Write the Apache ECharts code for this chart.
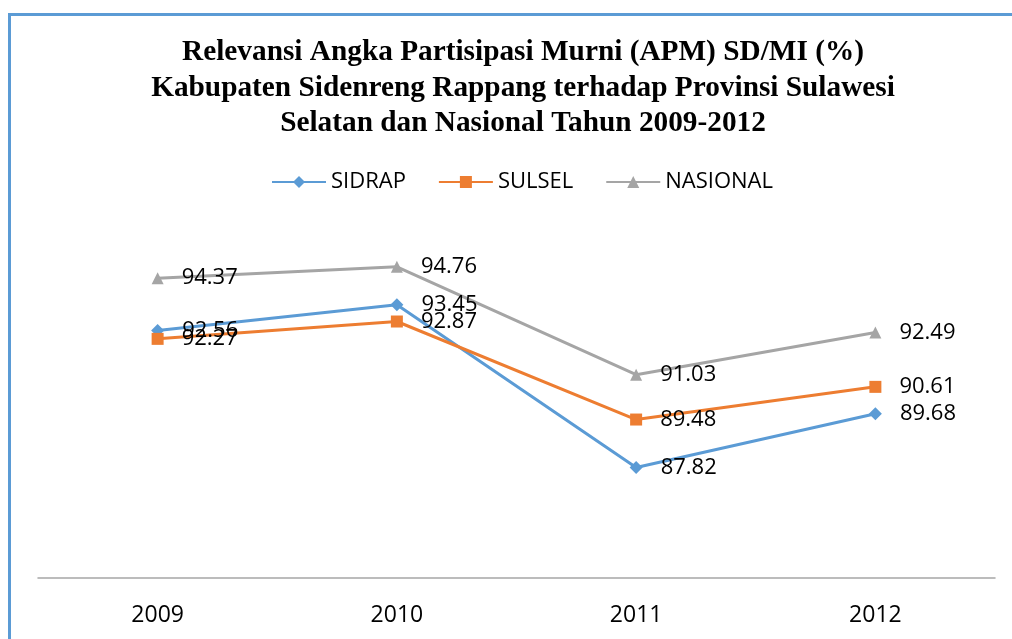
<!DOCTYPE html>
<html>
<head>
<meta charset="utf-8">
<script src="https://cdn.jsdelivr.net/npm/echarts@6/dist/echarts.min.js"></script>
<style>
  html, body { margin: 0; padding: 0; background: #fff; }
  #chart { width: 1012px; height: 639px; }
</style>
</head>
<body>
<div id="chart"></div>
<script>
const years = ['2009', '2010', '2011', '2012'];
const sidrap = [92.56, 93.45, 87.82, 89.68];
const sulsel = [92.27, 92.87, 89.48, 90.61];
const nasional = [94.37, 94.76, 91.03, 92.49];

const myChart = echarts.init(document.getElementById('chart'));

const labelStyle = {
  show: true,
  position: 'right',
  distance: 18,
  fontFamily: 'Open Sans',
  fontSize: 22,
  color: '#000'
};

const option = {
  animation: false,
  color: ['#5B9BD5', '#ED7D31', '#A5A5A5'],
  title: {
    text: 'Relevansi Angka Partisipasi Murni (APM) SD/MI (%)\nKabupaten Sidenreng Rappang terhadap Provinsi Sulawesi\nSelatan dan Nasional Tahun 2009-2012',
    left: 518,
    top: 30,
    textAlign: 'center',
    textStyle: {
      fontFamily: 'Liberation Serif',
      fontWeight: 'bold',
      fontSize: 29.3,
      lineHeight: 35.5,
      color: '#000'
    }
  },
  legend: {
    top: 166,
    left: 266,
    itemWidth: 54,
    itemHeight: 15,
    itemGap: 32,
    textStyle: { fontFamily: 'Open Sans', fontSize: 22, color: '#000' },
    data: ['SIDRAP', 'SULSEL', 'NASIONAL']
  },
  graphic: [
    { type: 'line', shape: { x1: 9.5, y1: 14.5, x2: 1012, y2: 14.5 }, style: { stroke: '#5B9BD5', lineWidth: 3 } },
    { type: 'line', shape: { x1: 9.5, y1: 13, x2: 9.5, y2: 639 }, style: { stroke: '#5B9BD5', lineWidth: 3 } }
  ],
  grid: { left: 38, right: 17, top: 231, bottom: 61 },
  xAxis: {
    type: 'category',
    data: years,
    boundaryGap: true,
    axisLine: { lineStyle: { color: '#A6A6A6', width: 1.5 } },
    axisTick: { show: false },
    axisLabel: { margin: 26, fontFamily: 'Open Sans', fontSize: 23, color: '#000' }
  },
  yAxis: {
    type: 'value',
    min: 84,
    max: 96,
    show: false,
    splitLine: { show: false }
  },
  series: [
    { name: 'SIDRAP', type: 'line', data: sidrap, symbol: 'diamond', symbolSize: 13, lineStyle: { width: 3 }, label: labelStyle },
    { name: 'SULSEL', type: 'line', data: sulsel, symbol: 'rect', symbolSize: 12, lineStyle: { width: 3 }, label: labelStyle },
    { name: 'NASIONAL', type: 'line', data: nasional, symbol: 'triangle', symbolSize: 12, lineStyle: { width: 3 }, label: labelStyle }
  ]
};

myChart.setOption(option);
</script>
</body>
</html>
